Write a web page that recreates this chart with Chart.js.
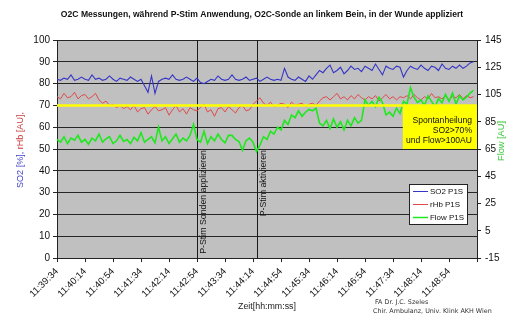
<!DOCTYPE html>
<html><head><meta charset="utf-8">
<script src="https://cdn.jsdelivr.net/npm/chart.js@4.4.1/dist/chart.umd.min.js"></script>
<style>html,body{margin:0;padding:0;background:#fff;}#wrap{width:520px;height:322px;}</style>
</head><body><div id="wrap"><canvas id="c" width="520" height="322"></canvas></div>
<script>
// ---- data ----
const startTime = '11:39:34';
const sampleStep = 5;      // seconds between samples
const xMax = 600;          // seconds shown on the time axis
const xTickStep = 40;      // seconds between time labels

const so2 = [
 82,81.5,82.5,82,84,81.5,82,83,82,81.5,
 84,82,82.5,81.5,82,83.5,82,81,82.5,82,
 81.5,83,82,81,82,79,76,83.5,75.5,81,
 82,82.5,82,84,82,81.5,82,83,82,81,
 82.5,80.5,80,81,82,81.5,83.5,82,81.5,82,
 84,82,81.5,82,83,81.5,82,82.5,81,82,
 83,82,81.5,82,81.5,87,83,82,81.5,83,
 82,81,83.5,82,84,86,85,87,88.5,85,
 86,87.5,84.5,86,88,86.5,87,85.5,88,87,
 86,89,86.5,84,88,87,86.5,88,87.5,83,
 86,88,87,86.5,88.5,87,86,88,87.5,86,
 89,87,86.5,88,87,88.5,87,88,89.5,90
];
const rhb = [
 74,73,75.5,73.5,74,76,73,74.5,75,73,
 74,75.5,72.5,71,72,70,70.5,69,70,68.5,
 69.5,68,70,67,68.5,69,66,68,69.5,67.5,
 68,69,65.5,68,70,67,68.5,66,69,68,
 67.5,69,70.5,67,68,65,68.5,69,67,69.5,
 68,66.5,69,70,67.5,68,70.5,72,73.5,71,
 70,71.5,69.5,70,71,70.5,69,71.5,70,70.5,
 71,69.5,70.5,71,70,72,73.5,74,72.5,74,
 75.5,73,74,72.5,74.5,73,75,73.5,72.5,74,
 73,74.5,72,73.5,75,73,74,72.5,74,73.5,
 74.5,73,75,73.5,72.5,74,73,75.5,73.5,74,
 73,74.5,72.5,74,73.5,75,73,74.5,73.5,74
];
const flow = [
 72,70,74,69,73,71.5,75,70,72,68.5,
 73,71,76,70,72.5,74,69,71,75,70.5,
 72,69,73.5,71,77,70,72,74,69.5,81,
 71,74,69,72.5,76,70,73,71,75,83,
 72,70,78,69,74,71,76,72,69.5,75,
 75,72,70.5,64,71,73,70,63,68,74,
 72,78,76,81,79,86,83,90,88,93,
 89,92,94,93,95,84,82,86,80,87,
 81,85,79,86,82,88,84,86,101,97,
 100,96,103,99,90,92,89,95,91,100,
 98,110,103,99,101,97,104,100,96,102,
 99,105,100,106,98,104,101,103,106,108
];
const leftAxis = { min: 0, max: 100, step: 10 };
const rightAxis = { min: -15, max: 145, step: 20 };
const threshold = 70;
const eventTimes = [200, 286];
const eventLabels = ['P-Stim Sonden applizieren', 'P-Stim aktivieren'];
const noteLines = ['Spontanheilung', 'SO2>70%', 'und Flow>100AU'];
const seriesNames = ['SO2 P1S', 'rHb P1S', 'Flow P1S'];
const titleText = 'O2C Messungen, während P-Stim Anwendung, O2C-Sonde an linkem Bein, in der Wunde appliziert';

// ---- helpers ----
const FAM = "'Liberation Sans', Arial, sans-serif";
const C_SO2 = '#3535c8', C_RHB = '#e04a4a', C_FLOW = '#1ee81e';
function toPts(arr){ return arr.map((v,i)=>({x:i*sampleStep, y:v})); }
function fmtTime(sec){
  const p = startTime.split(':').map(Number);
  let t = p[0]*3600+p[1]*60+p[2]+sec;
  const h = Math.floor(t/3600), m = Math.floor(t%3600/60), s = t%60;
  return [h,m,s].map(n=>String(n).padStart(2,'0')).join(':');
}
function fit(ctx, text, width, weight, family){
  ctx.font = `${weight} 10px ${family}`;
  const w = ctx.measureText(text).width;
  const size = 10*width/w;
  return `${weight} ${size.toFixed(2)}px ${family}`;
}

const deco = {
  id: 'deco',
  beforeDraw(chart){
    const {ctx, chartArea:a} = chart;
    ctx.save();
    ctx.fillStyle = '#fff'; ctx.fillRect(0,0,chart.width,chart.height);
    ctx.fillStyle = '#c0c0c0'; ctx.fillRect(a.left,a.top,a.right-a.left,a.bottom-a.top);
    ctx.restore();
  },
  beforeDatasetsDraw(chart){
    const {ctx, chartArea:a, scales} = chart;
    ctx.save();
    ctx.strokeStyle = '#1a1a1a'; ctx.lineWidth = 1;
    const f = fit(ctx, eventLabels[0], 104, 'normal', FAM);
    eventTimes.forEach((t,i)=>{
      const x = Math.round(scales.x.getPixelForValue(t))+0.5;
      ctx.beginPath(); ctx.moveTo(x,a.top); ctx.lineTo(x,a.bottom); ctx.stroke();
      ctx.save();
      ctx.translate(x+2, 150); ctx.rotate(-Math.PI/2);
      ctx.font = f; ctx.fillStyle = '#111'; ctx.textAlign = 'right'; ctx.textBaseline = 'top';
      ctx.fillText(eventLabels[i], 0, 0);
      ctx.restore();
    });
    ctx.restore();
  },
  afterDatasetsDraw(chart){
    const {ctx, chartArea:a, scales} = chart;
    ctx.save();
    // note box
    const x0 = scales.x.getPixelForValue(494);
    const y0 = scales.y.getPixelForValue(69.7), y1 = scales.y.getPixelForValue(50);
    ctx.fillStyle = '#ffff00';
    ctx.fillRect(x0, y0, a.right-x0, y1-y0);
    ctx.fillStyle = '#111'; ctx.textAlign = 'right'; ctx.textBaseline = 'middle';
    ctx.font = fit(ctx, noteLines[2], 66, 'normal', FAM);
    noteLines.forEach((l,i)=> ctx.fillText(l, 472, 121 + i*10));
    // legend
    ctx.fillStyle = '#fff'; ctx.fillRect(409.5,184.5,58,40);
    ctx.strokeStyle = '#222'; ctx.lineWidth = 1; ctx.strokeRect(409.5,184.5,58,40);
    const cols = [C_SO2, C_RHB, C_FLOW];
    ctx.font = fit(ctx, seriesNames[2], 34, 'normal', FAM);
    ctx.textAlign = 'left';
    seriesNames.forEach((n,i)=>{
      const y = 191 + i*13;
      ctx.strokeStyle = cols[i]; ctx.lineWidth = i===2?1.5:1;
      ctx.beginPath(); ctx.moveTo(413,y+0.5); ctx.lineTo(428,y+0.5); ctx.stroke();
      ctx.fillStyle = '#111'; ctx.fillText(n, 430, y+0.5);
    });
    ctx.restore();
  },
  afterDraw(chart){
    const {ctx} = chart;
    ctx.save();
    // title
    ctx.fillStyle = '#111'; ctx.textAlign = 'center'; ctx.textBaseline = 'middle';
    ctx.font = fit(ctx, titleText, 403, 'bold', FAM);
    ctx.fillText(titleText, 262, 15);
    // left axis title (two colours)
    ctx.save();
    ctx.translate(20, 150); ctx.rotate(-Math.PI/2);
    ctx.font = fit(ctx, 'SO2 [%], rHb [AU],', 76, 'normal', FAM);
    const p1 = 'SO2 [%], ', p2 = 'rHb [AU],';
    const w1 = ctx.measureText(p1).width, w2 = ctx.measureText(p2).width;
    ctx.textAlign = 'left';
    ctx.fillStyle = '#4040c8'; ctx.fillText(p1, -(w1+w2)/2, 0);
    ctx.fillStyle = '#c83c3c'; ctx.fillText(p2, -(w1+w2)/2 + w1, 0);
    ctx.restore();
    // right axis title
    ctx.save();
    ctx.translate(501, 141); ctx.rotate(-Math.PI/2);
    ctx.font = fit(ctx, 'Flow [AU]', 40, 'normal', FAM);
    ctx.fillStyle = '#3cc83c'; ctx.textAlign = 'center';
    ctx.fillText('Flow [AU]', 0, 0);
    ctx.restore();
    // x axis title
    ctx.fillStyle = '#222';
    ctx.font = fit(ctx, 'Zeit[hh:mm:ss]', 58, 'normal', FAM);
    ctx.fillText('Zeit[hh:mm:ss]', 267, 307);
    // credits
    const cf = fit(ctx, 'Chir. Ambulanz, Univ. Klink AKH Wien', 119, 'normal', "'DejaVu Sans', sans-serif");
    ctx.font = cf; ctx.textAlign = 'left'; ctx.fillStyle = '#333';
    ctx.fillText('FA Dr. J.C. Szeles', 375, 302.5);
    ctx.fillText('Chir. Ambulanz, Univ. Klink AKH Wien', 373, 311.5);
    ctx.restore();
  }
};

const tickFont = { family: FAM, size: 9.5 };
new Chart(document.getElementById('c'), {
  type: 'line',
  data: {
    datasets: [
      { label: 'threshold', data: [{x:0,y:threshold},{x:xMax,y:threshold}], yAxisID:'y', borderColor:'#ffff00', borderWidth:2.5, pointRadius:0, order:0 },
      { label: seriesNames[0], data: toPts(so2), yAxisID:'y', borderColor:C_SO2, borderWidth:1.1, pointRadius:0, tension:0, order:2 },
      { label: seriesNames[1], data: toPts(rhb), yAxisID:'y', borderColor:C_RHB, borderWidth:1, pointRadius:0, tension:0, order:3 },
      { label: seriesNames[2], data: toPts(flow), yAxisID:'y1', borderColor:C_FLOW, borderWidth:1.6, pointRadius:0, tension:0, order:1 }
    ]
  },
  options: {
    responsive: false, animation: false, devicePixelRatio: 1,
    layout: { padding: { top: 40, left: 0, right: 0, bottom: 0 } },
    plugins: { legend: { display: false }, title: { display: false }, tooltip: { enabled: false } },
    scales: {
      x: {
        type: 'linear', min: 0, max: xMax,
        afterFit(s){ s.height = 64; },
        ticks: { stepSize: xTickStep, autoSkip: false, minRotation: 45, maxRotation: 45, color: '#111', font: tickFont, padding: 4,
          callback: v => v >= xMax ? '' : fmtTime(v) },
        grid: { drawOnChartArea: false, drawTicks: true, tickLength: 4, color: '#222' },
        border: { color: '#222' }
      },
      y: {
        position: 'left', min: leftAxis.min, max: leftAxis.max,
        afterFit(s){ s.width = 57; },
        ticks: { stepSize: leftAxis.step, color: '#111', font: { family: FAM, size: 10 }, padding: 3 },
        grid: { color: '#262626', tickLength: 4 },
        border: { color: '#222' }
      },
      y1: {
        position: 'right', min: rightAxis.min, max: rightAxis.max,
        afterFit(s){ s.width = 43; },
        ticks: { stepSize: rightAxis.step, color: '#111', font: { family: FAM, size: 10 }, padding: 4 },
        grid: { drawOnChartArea: false, tickLength: 4, color: '#222' },
        border: { color: '#222' }
      }
    }
  },
  plugins: [deco]
});
</script></body></html>
